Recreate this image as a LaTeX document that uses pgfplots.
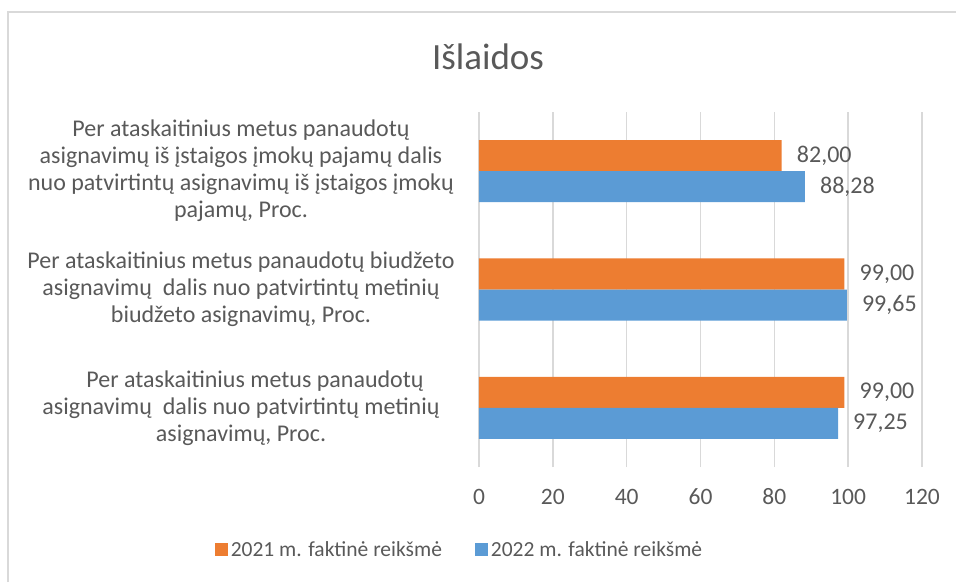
\documentclass[border=0pt]{standalone}
\usepackage{fontspec}
\setmainfont{Carlito}
\usepackage{pgfplots}
\usepackage{pgfplotstable}
\pgfplotsset{compat=1.18}
\definecolor{cOrange}{HTML}{ED7D31}
\definecolor{cBlue}{HTML}{5B9BD5}
\definecolor{cText}{HTML}{595959}
\definecolor{cGrid}{HTML}{D9D9D9}
\pgfplotstableread{
v c l
99.00 0 99,00
99.00 1 99,00
82.00 2 82,00
}\tabA
\pgfplotstableread{
v c l
97.25 0 97,25
99.65 1 99,65
88.28 2 88,28
}\tabB
\begin{document}
\begin{tikzpicture}
\path[use as bounding box] (0,0) rectangle (956pt,582pt);
\draw[cGrid, line width=1.5pt] (8pt,0pt) -- (8pt,570pt) -- (956pt,570pt);
\node[text=cText, font=\fontsize{37}{40}\selectfont, anchor=center] at (488pt,525pt) {Išlaidos};
\begin{axis}[
  at={(479pt,115pt)}, anchor=south west,
  scale only axis, width=443pt, height=355pt,
  xbar, bar width=0.262,
  xmin=0, xmax=120, ymin=-0.5, ymax=2.5,
  xtick={0,20,40,60,80,100,120},
  xticklabels={0,20,40,60,80,100,120},
  ytick={0,1,2},
  yticklabels={
    {\hspace*{28pt}Per ataskaitinius metus panaudotų\\asignavimų\ \ dalis nuo patvirtintų metinių\\asignavimų, Proc.},
    {Per ataskaitinius metus panaudotų biudžeto\\asignavimų\ \ dalis nuo patvirtintų metinių\\biudžeto asignavimų, Proc.},
    {Per ataskaitinius metus panaudotų\\asignavimų iš įstaigos įmokų pajamų dalis\\nuo patvirtintų asignavimų iš įstaigos įmokų\\pajamų, Proc.}
  },
  xmajorgrids, grid style={cGrid, line width=1.5pt},
  axis line style={draw=none}, major tick length=0pt,
  xticklabel style={anchor=center, yshift=-30pt, text=cText, font=\fontsize{23.5}{26}\selectfont},
  yticklabel style={anchor=center, xshift=-238pt, align=center, text=cText, font=\fontsize{24}{27}\selectfont},
  clip=false,
  point meta=explicit symbolic,
  nodes near coords,
  nodes near coords style={anchor=west, inner sep=0pt, xshift=15pt, text=cText, font=\fontsize{24}{26}\selectfont},
  legend columns=2,
  legend style={at={(-0.0430,-0.2338)}, anchor=center, draw=none, fill=none,
    font=\fontsize{21.5}{24}\selectfont, text=cText, inner sep=0pt,
    nodes={inner sep=3pt},
    /tikz/every even column/.append style={column sep=30pt}},
  legend image code/.code={\fill[#1,draw=none] (0pt,-6.5pt) rectangle (13pt,6.5pt);},
]
\addplot[fill=cOrange, draw=none, bar shift=0.131] table[x=v, y=c, meta=l] {\tabA};
\addplot[fill=cBlue, draw=none, bar shift=-0.131] table[x=v, y=c, meta=l] {\tabB};
\legend{2021 m. faktinė reikšmė, 2022 m. faktinė reikšmė}
\end{axis}
\end{tikzpicture}
\end{document}
